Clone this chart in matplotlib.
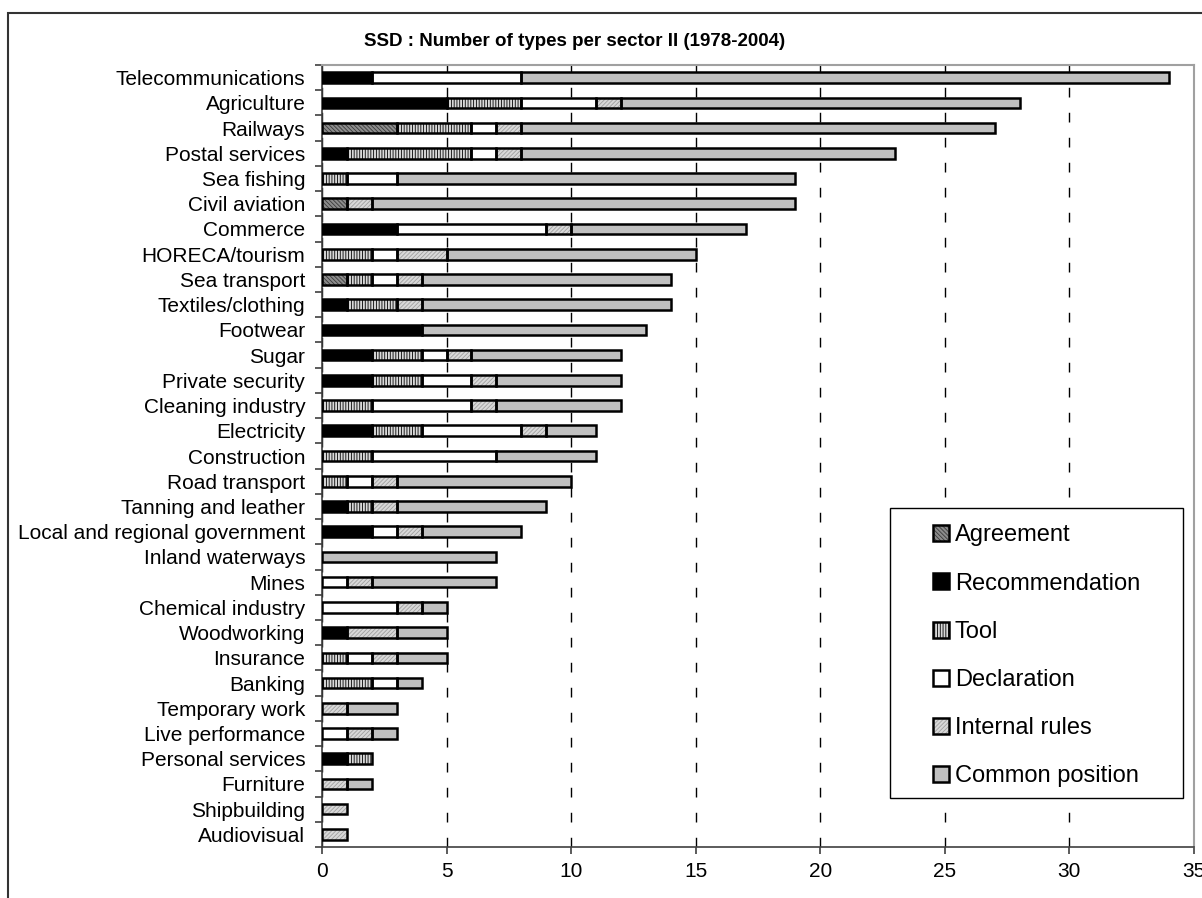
import matplotlib
matplotlib.use('Agg')
import matplotlib.pyplot as plt
import numpy as np
from matplotlib.patches import Patch, Rectangle
from matplotlib.legend_handler import HandlerTuple

plt.rcParams['font.family'] = ['Liberation Sans', 'DejaVu Sans']
plt.rcParams['hatch.linewidth'] = 0.6

sectors = ["Telecommunications", "Agriculture", "Railways", "Postal services",
           "Sea fishing", "Civil aviation", "Commerce", "HORECA/tourism",
           "Sea transport", "Textiles/clothing", "Footwear", "Sugar",
           "Private security", "Cleaning industry", "Electricity", "Construction",
           "Road transport", "Tanning and leather", "Local and regional government",
           "Inland waterways", "Mines", "Chemical industry", "Woodworking",
           "Insurance", "Banking", "Temporary work", "Live performance",
           "Personal services", "Furniture", "Shipbuilding", "Audiovisual"]

agreement      = [0, 0, 3, 0, 0, 1, 0, 0, 1, 0, 0, 0, 0, 0, 0, 0, 0, 0, 0, 0, 0, 0, 0, 0, 0, 0, 0, 0, 0, 0, 0]
recommendation = [2, 5, 0, 1, 0, 0, 3, 0, 0, 1, 4, 2, 2, 0, 2, 0, 0, 1, 2, 0, 0, 0, 1, 0, 0, 0, 0, 1, 0, 0, 0]
tool           = [0, 3, 3, 5, 1, 0, 0, 2, 1, 2, 0, 2, 2, 2, 2, 2, 1, 1, 0, 0, 0, 0, 0, 1, 2, 0, 0, 1, 0, 0, 0]
declaration    = [6, 3, 1, 1, 2, 0, 6, 1, 1, 0, 0, 1, 2, 4, 4, 5, 1, 0, 1, 0, 1, 3, 0, 1, 1, 0, 1, 0, 0, 0, 0]
internal_rules = [0, 1, 1, 1, 0, 1, 1, 2, 1, 1, 0, 1, 1, 1, 1, 0, 1, 1, 1, 0, 1, 1, 2, 1, 0, 1, 1, 0, 1, 1, 1]
common_pos     = [26, 16, 19, 15, 16, 17, 7, 10, 10, 10, 9, 6, 5, 5, 2, 4, 7, 6, 4, 7, 5, 1, 2, 2, 1, 2, 1, 0, 1, 0, 0]

# (label, values, fill, hatch, hatch colour)
series = [
    ("Agreement", agreement, '#8c8c8c', '\\\\\\\\\\\\\\\\', '#3a3a3a'),
    ("Recommendation", recommendation, 'black', None, 'black'),
    ("Tool", tool, '#d8d8d8', '||||||', 'black'),
    ("Declaration", declaration, 'white', None, 'white'),
    ("Internal rules", internal_rules, '#d8d8d8', '////////', '#a0a0a0'),
    ("Common position", common_pos, '#c0c0c0', None, '#c0c0c0'),
]

fig = plt.figure(figsize=(12.02, 8.98), dpi=100)
ax = fig.add_axes([0.2679, 0.0568, 0.7254, 0.8708])

n = len(sectors)
y = np.arange(n)[::-1]
left = np.zeros(n)
h = 0.42
handles = []
for name, vals, face, hatch, hcol in series:
    vals = np.array(vals, dtype=float)
    m = vals > 0
    ax.barh(y[m], vals[m], left=left[m], height=h, color=face, hatch=hatch,
            edgecolor=hcol, linewidth=0, zorder=2)
    ax.barh(y[m], vals[m], left=left[m], height=h, fill=False,
            edgecolor='black', linewidth=1.8, zorder=3)
    left += vals
    handles.append((Patch(facecolor=face, hatch=hatch, edgecolor=hcol, linewidth=0),
                    Patch(fill=False, edgecolor='black', linewidth=1.8)))

ax.set_xlim(0, 35)
ax.set_ylim(-0.5, n - 0.5)
ax.set_xticks(np.arange(0, 36, 5))
ax.set_yticks(y)
ax.set_yticklabels(sectors)
ax.set_yticks(np.arange(-0.5, n, 1), minor=True)
ax.tick_params(axis='y', which='major', length=0, pad=12, labelsize=15)
ax.tick_params(axis='y', which='minor', length=5, width=1.2, color='#404040')
ax.tick_params(axis='x', length=5, width=1.2, color='#404040', pad=6, labelsize=15)

ax.set_axisbelow(True)
ax.xaxis.grid(True, color='black', linewidth=1, linestyle=(0, (7, 11)))

for s in ('left', 'bottom'):
    ax.spines[s].set_color('#404040')
    ax.spines[s].set_linewidth(1.2)
for s in ('top', 'right'):
    ax.spines[s].set_color('#a0a0a0')
    ax.spines[s].set_linewidth(1.5)

# legend box
ax.add_patch(Rectangle((0.651, 0.0627), 0.336, 0.371, transform=ax.transAxes,
                       facecolor='white', edgecolor='black', linewidth=1, zorder=4))
ax.legend(handles, [s[0] for s in series], handler_map={tuple: HandlerTuple(ndivide=1, pad=0)},
          loc='upper left', bbox_to_anchor=(0.7007, 0.4125), frameon=False,
          borderpad=0, borderaxespad=0, fontsize=17, handlelength=0.67,
          handleheight=0.67, handletextpad=0.25, labelspacing=1.11).set_zorder(5)

fig.text(0.478, 0.954, "SSD : Number of types per sector II (1978-2004)",
         ha='center', va='center', fontsize=13.5, fontweight='bold')

# chart frame
fig.add_artist(Rectangle((0.0067, -0.1), 1.2, 1.0855, transform=fig.transFigure,
                         fill=False, edgecolor='#333333', linewidth=1.5))

fig.savefig('out.png', dpi=100)
